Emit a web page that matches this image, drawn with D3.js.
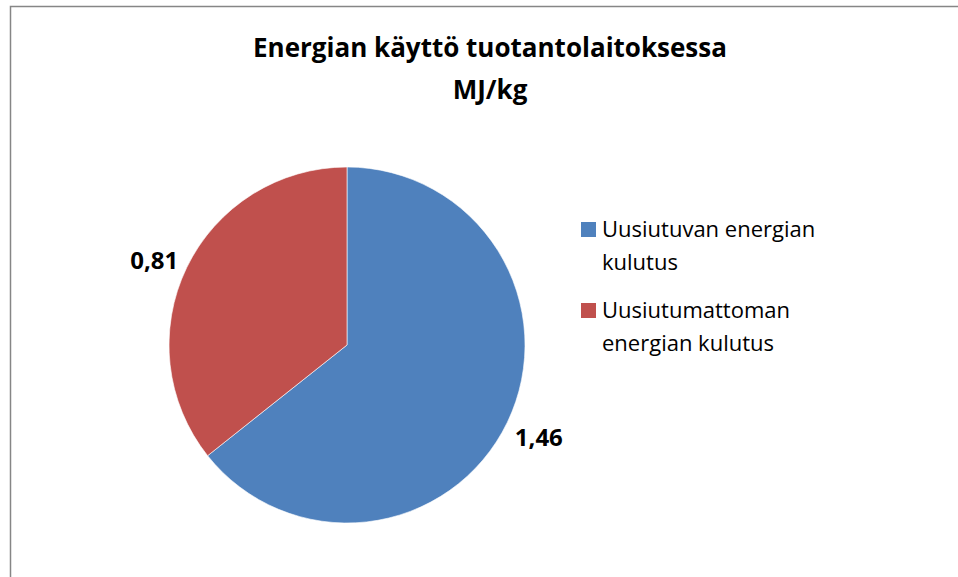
<!DOCTYPE html>
<html>
<head>
<meta charset="utf-8">
<script src="https://cdn.jsdelivr.net/npm/d3@7"></script>
<style>
  body { margin: 0; background: #fff; }
  text { font-family: "Open Sans", Lato, sans-serif; }
</style>
</head>
<body>
<svg id="chart" width="958" height="577"></svg>
<script>
var categories = ["Uusiutuvan energian kulutus", "Uusiutumattoman energian kulutus"];
var legendLines = [["Uusiutuvan energian", "kulutus"], ["Uusiutumattoman", "energian kulutus"]];
var values = [1.46, 0.81];
var valueLabels = ["1,46", "0,81"];
var colors = ["#4f81bd", "#c0504d"];
var titleLines = ["Energian käyttö tuotantolaitoksessa", "MJ/kg"];

var svg = d3.select("#chart");

// chart border (continues past the window)
svg.append("rect")
    .attr("x", 10.5).attr("y", 6.5)
    .attr("width", 1000).attr("height", 1000)
    .attr("fill", "#fff")
    .attr("stroke", "#868686")
    .attr("stroke-width", 1.5);

svg.append("g").selectAll("text")
    .data(titleLines)
    .enter().append("text")
    .attr("x", 490)
    .attr("y", function (d, i) { return 57 + i * 42; })
    .attr("text-anchor", "middle")
    .attr("font-size", "26px")
    .attr("font-weight", "bold")
    .attr("fill", "#000")
    .text(function (d) { return d; });

var cx = 347, cy = 345, r = 178;
var pie = d3.pie().sort(null).value(function (d) { return d; });
var arc = d3.arc().innerRadius(0).outerRadius(r);
var arcs = pie(values);

var g = svg.append("g").attr("transform", "translate(" + cx + "," + cy + ")");
g.selectAll("path")
    .data(arcs)
    .enter().append("path")
    .attr("d", arc)
    .attr("fill", function (d, i) { return colors[i]; })
    .attr("stroke", "#fff")
    .attr("stroke-width", 0.6);

// labels just outside the pie, small nudge like excel's best fit
var labelArc = d3.arc().innerRadius(r + 35).outerRadius(r + 35);
var nudge = [[0, 0], [-1, 8.5]];
g.selectAll("text.lbl")
    .data(arcs)
    .enter().append("text")
    .attr("class", "lbl")
    .attr("transform", function (d, i) {
        var c = labelArc.centroid(d);
        return "translate(" + (c[0] + nudge[i][0]) + "," + (c[1] + nudge[i][1] + 8.5) + ")";
    })
    .attr("text-anchor", "middle")
    .attr("font-size", "24px")
    .attr("font-weight", "bold")
    .attr("fill", "#000")
    .text(function (d, i) { return valueLabels[i]; });

var legend = svg.append("g").selectAll("g")
    .data(categories)
    .enter().append("g")
    .attr("transform", function (d, i) { return "translate(581," + (222 + i * 81) + ")"; });
legend.append("rect")
    .attr("width", 15).attr("height", 15)
    .attr("fill", function (d, i) { return colors[i]; });
legend.append("text")
    .attr("x", 21)
    .attr("y", 15)
    .attr("font-size", "22px")
    .attr("fill", "#000")
    .selectAll("tspan")
    .data(function (d, i) { return legendLines[i]; })
    .enter().append("tspan")
    .attr("x", 21)
    .attr("dy", function (d, j) { return j === 0 ? 0 : 33; })
    .text(function (d) { return d; });
</script>
</body>
</html>
